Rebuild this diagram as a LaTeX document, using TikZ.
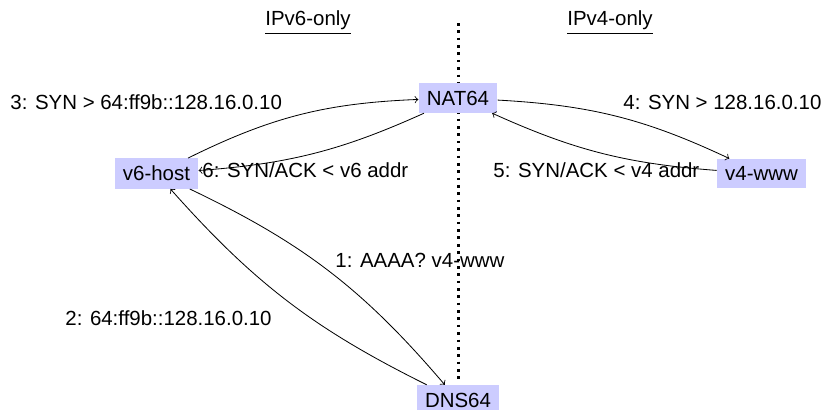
\documentclass[tikz,border=0pt]{standalone}
\usepackage{fontspec}
\setmainfont{Liberation Sans}
\usepackage{tikz}

\begin{document}
\begin{tikzpicture}[
  host/.style={fill=blue!20, inner xsep=4pt, inner ysep=3.7pt},
  msg/.style={anchor=base west, inner sep=0pt},
  side/.style={anchor=base, inner sep=0pt}
]
\useasboundingbox (0,0) rectangle (14.319,7.031);

% Boundary between the two networks
\coordinate (divtop) at (7.88,6.635);
\coordinate (divbot) at (7.88,0.447);
\draw[line width=1.3pt, dash pattern=on 1.3pt off 2.3pt] (divtop) -- (divbot);

\node[side] (v6side) at (5.295,6.584) {\underline{IPv6-only}};
\node[side] (v4side) at (10.486,6.584) {\underline{IPv4-only}};

% Hosts and translators
\node[host] (nat64) at (7.873,5.346) {NAT64};
\node[host] (dns64) at (7.873,0.155) {DNS64};
\node[host] (v6host) at (2.690,4.048) {v6-host};
\node[host] (v4www) at (13.090,4.048) {v4-www};

% DNS lookup
\draw[->] (v6host) to[bend left=12] (dns64);
\node[msg] (q1) at (5.759,2.441) {1: AAAA? v4-www};

\draw[->] (dns64) to[bend left=11] (v6host);
\node[msg] (a2) at (1.117,1.444) {2: 64:ff9b::128.16.0.10};

% Connection through the translator
\draw[->] (v6host) to[bend left=12] (nat64);
\node[msg] (s3) at (0.172,5.140) {3: SYN > 64:ff9b::128.16.0.10};

\draw[->] (nat64) to[bend left=11] (v4www);
\node[msg] (s4) at (10.709,5.140) {4: SYN > 128.16.0.10};

\draw[->] (v4www) to[bend left=10] (nat64);
\node[msg] (r5) at (8.475,3.988) {5: SYN/ACK < v4 addr};

\draw[->] (nat64) to[bend left=10] (v6host);
\node[msg] (r6) at (3.472,3.988) {6: SYN/ACK < v6 addr};

\end{tikzpicture}
\end{document}
